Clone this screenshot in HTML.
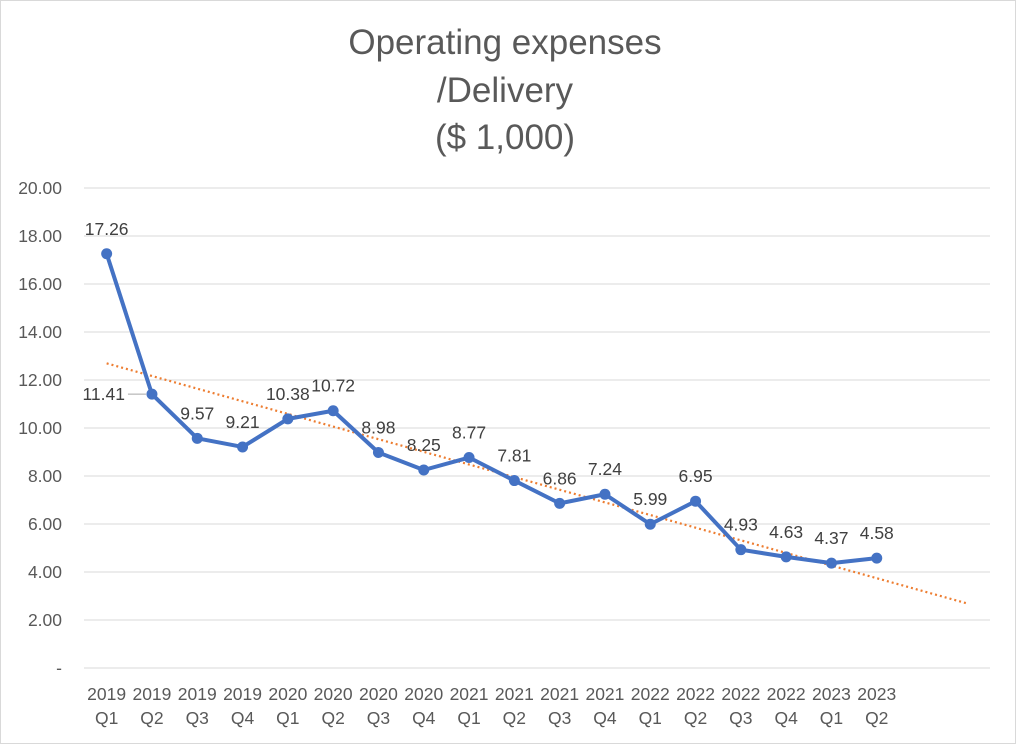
<!DOCTYPE html>
<html><head><meta charset="utf-8">
<style>
body{margin:0;background:#fff;font-family:"Liberation Sans",sans-serif;}
#wrap{position:relative;width:1016px;height:744px;overflow:hidden;}
svg text{font-family:"Liberation Sans",sans-serif;}
</style></head>
<body>
<div id="wrap">
<svg id="chart" width="1016" height="744">
<rect x="0.5" y="0.5" width="1015" height="743" fill="#fff" stroke="#d9d9d9"/>
<g font-size="35" fill="#595959" text-anchor="middle">
<text x="505" y="54">Operating expenses</text>
<text x="505" y="102">/Delivery</text>
<text x="505" y="149">($ 1,000)</text>
</g>
<g id="grid"></g><g id="yticks"></g><g id="xticks"></g><g id="trend"></g><g id="series"></g><g id="labels"></g>
</svg>
</div>
<script>
const years=["2019","2019","2019","2019","2020","2020","2020","2020","2021","2021","2021","2021","2022","2022","2022","2022","2023","2023"];
const quarters=["Q1","Q2","Q3","Q4","Q1","Q2","Q3","Q4","Q1","Q2","Q3","Q4","Q1","Q2","Q3","Q4","Q1","Q2"];
const values=[17.26,11.41,9.57,9.21,10.38,10.72,8.98,8.25,8.77,7.81,6.86,7.24,5.99,6.95,4.93,4.63,4.37,4.58];
const yTicks=[0,2,4,6,8,10,12,14,16,18,20];
const forecastPeriods=2;

const NS="http://www.w3.org/2000/svg";
const x0=84,x1=990,y0=668,yTop=188,yMax=20;
const nBands=values.length+forecastPeriods;
const bw=(x1-x0)/nBands;
const X=i=>x0+bw*(i+0.5);
const Y=v=>y0-(v/yMax)*(y0-yTop);
function mk(tag,attrs,parent){const e=document.createElementNS(NS,tag);for(const k in attrs)e.setAttribute(k,attrs[k]);document.getElementById(parent).appendChild(e);return e;}

yTicks.forEach(t=>{
  const g=mk('line',{x1:x0,x2:x1,y1:Y(t),y2:Y(t),stroke:'#d9d9d9','stroke-width':1},'grid');
  
  
  const l=mk('text',{x:62,y:Y(t)+6,'font-size':17.5,fill:'#595959','text-anchor':'end'},'yticks');
  l.textContent=t===0?'-':t.toFixed(2);
  
  
});
values.forEach((v,i)=>{
  const t=mk('text',{x:X(i),y:700,'font-size':17.5,fill:'#595959','text-anchor':'middle'},'xticks');
  t.textContent=years[i];
  
  
  const q=mk('text',{x:X(i),y:724,'font-size':17.5,fill:'#595959','text-anchor':'middle'},'xticks');
  q.textContent=quarters[i];
  
  
});
const n=values.length;let sx=0,sy=0,sxy=0,sxx=0;
values.forEach((v,i)=>{sx+=i;sy+=v;sxy+=i*v;sxx+=i*i;});
const b=(n*sxy-sx*sy)/(n*sxx-sx*sx),a=(sy-b*sx)/n;
const last=n-1+forecastPeriods;
const tr=mk('line',{x1:X(0),y1:Y(a),x2:X(last),y2:Y(a+b*last),stroke:'#ed7d31','stroke-width':2.2,'stroke-dasharray':'2,3'},'trend');


const pl=mk('polyline',{points:values.map((v,i)=>X(i)+','+Y(v)).join(' '),fill:'none',stroke:'#4472c4','stroke-width':4,'stroke-linejoin':'round'},'series');


values.forEach((v,i)=>{
  const c=mk('circle',{cx:X(i),cy:Y(v),r:5.5,fill:'#4472c4'},'series');
  
  
  let lx=X(i),ly=Y(v)-19,anchor='middle';
  if(i===1){lx=X(i)-27;ly=Y(v)+6;anchor='end';
    const ll=mk('line',{x1:X(i)-24,y1:Y(v),x2:X(i)-6,y2:Y(v),stroke:'#a6a6a6','stroke-width':1},'labels');
    
    }
  const t=mk('text',{x:lx,y:ly,'font-size':17.5,fill:'#404040','text-anchor':anchor},'labels');
  t.textContent=v.toFixed(2);
  
  
});
</script>
</body></html>
